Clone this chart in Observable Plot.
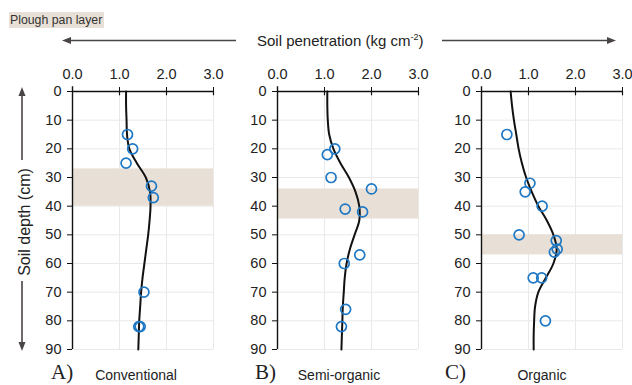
<!DOCTYPE html>
<html>
<head>
<meta charset="utf-8">
<script src="https://cdn.jsdelivr.net/npm/d3@7"></script>
<script src="https://cdn.jsdelivr.net/npm/@observablehq/plot@0.6"></script>
<style>
  body { margin: 0; background: #fff; overflow: hidden; font-family: "Liberation Sans", Arial, sans-serif; color: #222; }
  #wrap { position: relative; width: 632px; height: 385px; overflow: hidden; background: #fff; }
  .abs { position: absolute; white-space: nowrap; }
  .legend { left: 9px; top: 12px; width: 95px; height: 16px; background: #e8e0d6; font-size: 12.3px; line-height: 16px; padding-left: 1px; box-sizing: border-box; color: #333; }
  .title { top: 31px; left: 257px; font-size: 15px; line-height: 19px; }
  .title sup { font-size: 9px; vertical-align: 6px; line-height: 0; }
  .ylab { left: 25px; top: 222px; font-size: 16px; transform: translate(-50%, -50%) rotate(-90deg); }
  .letter { font-family: "Liberation Serif", "Times New Roman", serif; font-size: 21px; top: 360px; }
  .system { font-size: 14px; top: 367px; transform: translateX(-50%); }
  .panel { position: absolute; top: 59px; }
  svg.deco { position: absolute; left: 0; top: 0; pointer-events: none; }
</style>
</head>
<body>
<div id="wrap"></div>
<script>
// Axis ticks and panel labels
const depthTicks = [0, 10, 20, 30, 40, 50, 60, 70, 80, 90];
const penTicks = [0, 1, 2, 3];
const panelLetters = ["A)", "B)", "C)"];
const systems = ["Conventional", "Semi-organic", "Organic"];

// Plough pan layer extent per system (cm)
const panTop = [27, 34, 50];
const panBottom = [40, 44.5, 57];

// Measured penetration resistance (kg cm-2) at sampling depth (cm)
const obsDepthA = [15, 20, 25, 33, 37, 70, 82, 82];
const obsPenA = [1.17, 1.28, 1.14, 1.68, 1.72, 1.52, 1.41, 1.44];
const obsDepthB = [20, 22, 30, 34, 41, 42, 57, 60, 76, 82];
const obsPenB = [1.22, 1.06, 1.14, 2.0, 1.44, 1.81, 1.75, 1.42, 1.45, 1.36];
const obsDepthC = [15, 32, 35, 40, 50, 52, 55, 56, 65, 65, 80];
const obsPenC = [0.54, 1.03, 0.93, 1.29, 0.80, 1.59, 1.61, 1.55, 1.10, 1.28, 1.36];

// Fitted penetration profiles
const fitDepth = [0, 5, 10, 15, 20, 25, 30, 35, 40, 45, 50, 55, 60, 65, 70, 75, 80, 85, 90];
const fitPenA = [1.14, 1.14, 1.15, 1.16, 1.21, 1.37, 1.56, 1.65, 1.66, 1.64, 1.61, 1.57, 1.53, 1.49, 1.46, 1.44, 1.42, 1.41, 1.40];
const fitPenB = [1.06, 1.06, 1.07, 1.10, 1.19, 1.34, 1.52, 1.66, 1.74, 1.74, 1.64, 1.54, 1.47, 1.43, 1.41, 1.39, 1.38, 1.37, 1.36];
const fitPenC = [0.62, 0.65, 0.69, 0.74, 0.79, 0.86, 0.95, 1.07, 1.21, 1.39, 1.53, 1.60, 1.53, 1.37, 1.21, 1.14, 1.12, 1.11, 1.11];

const obsDepth = [obsDepthA, obsDepthB, obsDepthC];
const obsPen = [obsPenA, obsPenB, obsPenC];
const fitPen = [fitPenA, fitPenB, fitPenC];

// Page layout (pixels)
const zeroX = [72, 277, 481];
const letterX = [51, 255, 445];
const systemX = [136, 339, 542];
const mLeft = 44, mTop = 32, plotW = 141, plotH = 258, mRight = 12, mBottom = 12;

const wrap = document.getElementById("wrap");

function panel(i) {
  const obs = obsDepth[i].map((d, k) => ({depth: d, pen: obsPen[i][k]}));
  const fit = fitDepth.map((d, k) => ({depth: d, pen: fitPen[i][k]}));
  const pan = [{top: panTop[i], bottom: panBottom[i]}];
  return Plot.plot({
    width: mLeft + plotW + mRight,
    height: mTop + plotH + mBottom,
    marginLeft: mLeft, marginRight: mRight, marginTop: mTop, marginBottom: mBottom,
    style: {fontFamily: "'Liberation Sans', Arial, sans-serif", fontSize: "14.5px", color: "#222", background: "transparent", overflow: "visible"},
    x: {domain: [0, 3], axis: null},
    y: {domain: [0, 90], reverse: true, axis: null},
    marks: [
      Plot.gridY(depthTicks.slice(1), {stroke: "#e9e9e9", strokeOpacity: 1, strokeWidth: 1}),
      Plot.gridX(penTicks.slice(1), {stroke: "#e9e9e9", strokeOpacity: 1, strokeWidth: 1}),
      Plot.rect(pan, {x1: 0, x2: 3, y1: "top", y2: "bottom", fill: "#e8e0d6"}),
      Plot.axisX(penTicks, {anchor: "top", tickSize: 5, tickPadding: 8, tickFormat: d => d.toFixed(1), stroke: "#111", label: null}),
      Plot.axisY(depthTicks, {anchor: "left", tickSize: 5, tickPadding: 6, stroke: "#111", label: null}),
      Plot.ruleX(penTicks.slice(1), {y1: 0, y2: 1.5, stroke: "#111", strokeWidth: 1.2}),
      Plot.ruleY([0], {x1: 0, x2: 3, stroke: "#111", strokeWidth: 1.4}),
      Plot.ruleX([0], {y1: -1.7, y2: 90, stroke: "#111", strokeWidth: 1.4}),
      Plot.line(fit, {x: "pen", y: "depth", curve: "catmull-rom", stroke: "#111", strokeWidth: 2}),
      Plot.dot(obs, {x: "pen", y: "depth", r: 5, stroke: "#1f78c4", strokeWidth: 1.7, fill: "none"})
    ]
  });
}

for (let i = 0; i < 3; i++) {
  const p = panel(i);
  p.classList.add("panel");
  p.style.left = (zeroX[i] - mLeft) + "px";
  wrap.appendChild(p);

  const l = document.createElement("div");
  l.className = "abs letter";
  l.style.left = letterX[i] + "px";
  l.textContent = panelLetters[i];
  wrap.appendChild(l);

  const s = document.createElement("div");
  s.className = "abs system";
  s.style.left = systemX[i] + "px";
  s.textContent = systems[i];
  wrap.appendChild(s);
}

// Legend swatch, axis titles and direction arrows
wrap.insertAdjacentHTML("beforeend", `
  <div class="abs legend">Plough pan layer</div>
  <div class="abs title">Soil penetration (kg cm<sup>-2</sup>)</div>
  <div class="abs ylab">Soil depth (cm)</div>
  <svg class="deco" width="632" height="385">
    <g stroke="#4a4545" stroke-width="1.6" fill="#4a4545">
      <line x1="70" y1="40.5" x2="236" y2="40.5"/>
      <path d="M62,40.5 L71,37 L71,44 Z" stroke="none"/>
      <line x1="442" y1="40.5" x2="607" y2="40.5"/>
      <path d="M616,40.5 L607,37 L607,44 Z" stroke="none"/>
      <line x1="22" y1="96" x2="22" y2="160"/>
      <path d="M22,87 L18.5,96 L25.5,96 Z" stroke="none"/>
      <line x1="22" y1="281" x2="22" y2="342"/>
      <path d="M22,351 L18.5,342 L25.5,342 Z" stroke="none"/>
    </g>
  </svg>
`);
</script>
</body>
</html>
